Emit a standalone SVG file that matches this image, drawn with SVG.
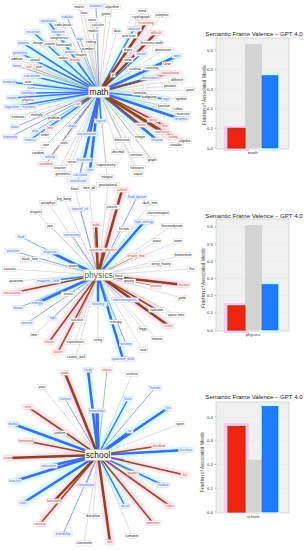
<svg xmlns="http://www.w3.org/2000/svg" width="308" height="550" viewBox="0 0 308 550">
<defs>
<style>
text{font-family:"Liberation Sans",Arial,sans-serif}
.n,.p,.r{font-size:3.4px;text-anchor:middle;dominant-baseline:central}
.n{fill:#222}.p{fill:#4d6ee8}.r{fill:#c4533a}
.bn,.bp,.br{stroke-width:.3}
.bn{fill:#fff;stroke:#c4c4c4}
.bp{fill:#f0f3ff;stroke:#c6cdf0}
.br{fill:#fff0f3;stroke:#f2c4cc}
path{fill:none}
.g{stroke:#aaa;stroke-width:.4}
.gn{stroke:#5aa05a;stroke-width:.6}
.b1{stroke:#5b7ef2;stroke-width:.7}
.b2{stroke:#4d70f0;stroke-width:1.5}
.b3{stroke:#4468ee;stroke-width:2.5}
.r1{stroke:#a8623c;stroke-width:.7}
.r2{stroke:#934c26;stroke-width:1.6}
.r3{stroke:#8c4420;stroke-width:2.5}
.mg{stroke:#a548e0;stroke-width:1.4}
.ctr{fill:#fff;stroke:#b8b8b8;stroke-width:.4}
.big{font-size:8.5px;text-anchor:middle;dominant-baseline:central;fill:#111}
.ct{font-size:6.1px;text-anchor:middle;fill:#222}
.tk{font-size:4.4px;text-anchor:end;fill:#333}
.yl{font-size:4.6px;text-anchor:middle;fill:#333}
.xl{font-size:4.4px;text-anchor:middle;fill:#333}
.pl{fill:#f0f0f0;stroke:#a8a8a8;stroke-width:.4}
.gl{stroke:#e4e4e4;stroke-width:.4}
.tks{stroke:#666;stroke-width:.4}
.hp{fill:#ffc8ee}
.hc{fill:#c8fff6}
.gy{fill:#d4d4d4}
.brd{fill:#ee2410;stroke:#a4401e;stroke-width:1.2}
.bbl{fill:#1f7cff;stroke:#1a62d8;stroke-width:.5}
</style>
<filter id="glow" x="-5%" y="-5%" width="110%" height="110%" color-interpolation-filters="sRGB">
<feMorphology operator="dilate" radius="1.5" in="SourceGraphic" result="d"/>
<feGaussianBlur in="d" stdDeviation="1.8" result="b"/>
<feColorMatrix in="b" type="matrix" values="0.8 0 -0.4 0 0.6  0 0 0.55 0 0.55  0 0 0.15 0 0.8  0 0 0 0.4 0" result="c"/>
<feMerge><feMergeNode in="c"/><feMergeNode in="SourceGraphic"/></feMerge>
</filter>
</defs>
<rect width="308" height="550" fill="#fff"/>

<!-- ================= MATH NETWORK ================= -->
<g id="math-network">
<g id="math-connectors">
<g id="math-thin">
<path class="g" d="M99 92L79 7"/><path class="g" d="M99 92L112 7"/><path class="g" d="M99 92L84 13"/><path class="g" d="M99 92L106 14"/><path class="g" d="M99 92L142 11"/><path class="g" d="M99 92L141 17"/><path class="g" d="M99 92L162 15"/><path class="g" d="M99 92L92 20"/><path class="g" d="M99 92L98 25"/><path class="g" d="M99 92L63 25"/><path class="g" d="M99 92L93 31"/><path class="g" d="M99 92L117 31"/><path class="g" d="M99 92L129 36"/><path class="g" d="M99 92L59 38"/><path class="g" d="M99 92L91 42"/><path class="g" d="M99 92L38 43"/><path class="g" d="M99 92L50 44"/><path class="g" d="M99 92L64 45"/><path class="g" d="M99 92L152 43"/><path class="g" d="M99 92L88 49"/><path class="g" d="M99 92L128 50"/><path class="g" d="M99 92L81 55"/><path class="g" d="M99 92L163 50"/><path class="g" d="M99 92L17 59"/><path class="g" d="M99 92L35 60"/><path class="g" d="M99 92L63 58"/><path class="g" d="M99 92L167 64"/><path class="g" d="M99 92L39 67"/><path class="g" d="M99 92L135 69"/><path class="g" d="M99 92L152 68"/><path class="g" d="M99 92L128 60"/><path class="g" d="M99 92L28 82"/><path class="g" d="M99 92L177 80"/><path class="g" d="M99 92L170 86"/><path class="g" d="M99 92L190 90"/><path class="g" d="M99 92L28 100"/><path class="g" d="M99 92L140 93"/><path class="g" d="M99 92L149 97"/><path class="g" d="M99 92L181 99"/><path class="g" d="M99 92L37 115"/><path class="g" d="M99 92L54 118"/><path class="g" d="M99 92L164 106"/><path class="g" d="M99 92L178 109"/><path class="g" d="M99 92L183 114"/><path class="g" d="M99 92L185 141"/><path class="g" d="M99 92L176 145"/><path class="g" d="M99 92L136 155"/><path class="g" d="M99 92L38 153"/><path class="gn" d="M99 92L152 160"/><path class="g" d="M99 92L137 168"/><path class="g" d="M99 92L60 168"/><path class="g" d="M99 92L72 162"/><path class="g" d="M99 92L63 174"/><path class="g" d="M99 92L106 165"/><path class="g" d="M99 92L107 177"/><path class="g" d="M99 92L113 75"/><path class="g" d="M99 92L138 174"/><path class="g" d="M99 92L118 152"/><path class="g" d="M99 92L140 137"/><path class="g" d="M99 92L122 140"/><path class="g" d="M99 92L46 145"/><path class="g" d="M99 92L64 143"/><path class="g" d="M99 92L45 135"/><path class="g" d="M99 92L18 117"/>
<path class="b1" d="M99 92L96 6"/><path class="b1" d="M99 92L67 17"/><path class="b1" d="M99 92L58 32"/><path class="b1" d="M99 92L80 39"/><path class="b1" d="M99 92L70 52"/><path class="b1" d="M99 92L17 66"/><path class="b1" d="M99 92L31 88"/><path class="b1" d="M99 92L29 107"/><path class="b1" d="M99 92L72 126"/><path class="b1" d="M99 92L15 127"/><path class="b1" d="M99 92L50 157"/><path class="b1" d="M99 92L80 175"/><path class="b1" d="M99 92L78 181"/><path class="b1" d="M99 92L35 131"/><path class="b1" d="M99 92L10 137"/>
<path class="r1" d="M99 92L75 60"/><path class="r1" d="M99 92L29 67"/><path class="r1" d="M99 92L153 120"/><path class="r1" d="M99 92L46 164"/><path class="r1" d="M99 92L50 128"/>
</g>
<g id="math-thick" filter="url(#glow)">
<path class="b2" d="M99 92L134 29"/><path class="b2" d="M99 92L141 54"/><path class="b2" d="M99 92L166 99"/><path class="b2" d="M99 92L101 121"/><path class="b2" d="M99 92L87 134"/><path class="b2" d="M99 92L28 93"/><path class="b2" d="M99 92L32 76"/><path class="b2" d="M99 92L48 21"/><path class="b2" d="M99 92L33 32"/><path class="b2" d="M99 92L23 43"/><path class="b2" d="M99 92L20 53"/><path class="b2" d="M99 92L9 82"/><path class="b2" d="M99 92L12 98"/><path class="b2" d="M99 92L12 107"/><path class="b2" d="M99 92L30 140"/>
<path class="b3" d="M99 92L177 56"/><path class="b3" d="M99 92L150 78"/><path class="b3" d="M99 92L181 119"/><path class="b3" d="M99 92L157 140"/><path class="b3" d="M99 92L84 160"/><path class="b3" d="M99 92L90 170"/>
<path class="r2" d="M99 92L170 73"/><path class="r2" d="M99 92L141 125"/><path class="r2" d="M99 92L165 126"/><path class="r2" d="M99 92L173 137"/><path class="r2" d="M99 92L78 104"/>
<path class="r3" d="M99 92L146 23"/><path class="r3" d="M99 92L156 33"/><path class="r3" d="M99 92L162 132"/>
</g>
</g>
<g id="math-nodes">
<g id="m-matrix"><rect class="bn" x="73.1" y="4.8" width="11.8" height="4.4"/><text class="n" x="79" y="7">matrix</text></g>
<g id="m-statistics"><rect class="bp" x="86.7" y="3.8" width="18.6" height="4.4"/><text class="p" x="96" y="6">statistics</text></g>
<g id="m-algorithm"><rect class="bn" x="103.6" y="4.8" width="16.9" height="4.4"/><text class="n" x="112" y="7">algorithm</text></g>
<g id="m-lines"><rect class="bn" x="78.9" y="10.8" width="10.1" height="4.4"/><text class="n" x="84" y="13">lines</text></g>
<g id="m-game"><rect class="bn" x="101.8" y="11.8" width="8.4" height="4.4"/><text class="n" x="106" y="14">game</text></g>
<g id="m-trend"><rect class="bn" x="136.9" y="8.8" width="10.1" height="4.4"/><text class="n" x="142" y="11">trend</text></g>
<g id="m-cryptograph"><rect class="bn" x="130.8" y="14.8" width="20.3" height="4.4"/><text class="n" x="141" y="17">cryptograph</text></g>
<g id="m-complex"><rect class="bn" x="155.2" y="12.8" width="13.5" height="4.4"/><text class="n" x="162" y="15">complex</text></g>
<g id="m-sudoku"><rect class="bp" x="61.1" y="14.8" width="11.8" height="4.4"/><text class="p" x="67" y="17">sudoku</text></g>
<g id="m-ratios"><rect class="bn" x="86.1" y="17.8" width="11.8" height="4.4"/><text class="n" x="92" y="20">ratios</text></g>
<g id="m-calculus"><rect class="bn" x="90.4" y="22.8" width="15.2" height="4.4"/><text class="n" x="98" y="25">calculus</text></g>
<g id="m-frustrating"><rect class="br" x="135.8" y="20.8" width="20.3" height="4.4"/><text class="r" x="146" y="23">frustrating</text></g>
<g id="m-code-break"><rect class="bn" x="53.7" y="22.8" width="18.6" height="4.4"/><text class="n" x="63" y="25">code-break</text></g>
<g id="m-equations"><rect class="bp" x="39.5" y="18.8" width="16.9" height="4.4"/><text class="p" x="48" y="21">equations</text></g>
<g id="m-abstract"><rect class="bp" x="126.4" y="26.8" width="15.2" height="4.4"/><text class="p" x="134" y="29">abstract</text></g>
<g id="m-maths"><rect class="bn" x="87.95" y="28.8" width="10.1" height="4.4"/><text class="n" x="93" y="31">maths</text></g>
<g id="m-difficult"><rect class="br" x="147.55" y="30.8" width="16.9" height="4.4"/><text class="r" x="156" y="33">difficult</text></g>
<g id="m-data"><rect class="bn" x="112.8" y="28.8" width="8.4" height="4.4"/><text class="n" x="117" y="31">data</text></g>
<g id="m-precision"><rect class="bn" x="120.55" y="33.8" width="16.9" height="4.4"/><text class="n" x="129" y="36">precision</text></g>
<g id="m-recursion"><rect class="bp" x="24.55" y="29.8" width="16.9" height="4.4"/><text class="p" x="33" y="32">recursion</text></g>
<g id="m-theorem"><rect class="bp" x="51.25" y="29.8" width="13.5" height="4.4"/><text class="p" x="58" y="32">theorem</text></g>
<g id="m-congruence"><rect class="bn" x="49.7" y="35.8" width="18.6" height="4.4"/><text class="n" x="59" y="38">congruence</text></g>
<g id="m-logic"><rect class="bp" x="74.95" y="36.8" width="10.1" height="4.4"/><text class="p" x="80" y="39">logic</text></g>
<g id="m-coding"><rect class="bn" x="85.1" y="39.8" width="11.8" height="4.4"/><text class="n" x="91" y="42">coding</text></g>
<g id="m-design"><rect class="bn" x="32.1" y="40.8" width="11.8" height="4.4"/><text class="n" x="38" y="43">design</text></g>
<g id="m-puzzle"><rect class="bn" x="44.1" y="41.8" width="11.8" height="4.4"/><text class="n" x="50" y="44">puzzle</text></g>
<g id="m-homework"><rect class="bn" x="56.4" y="42.8" width="15.2" height="4.4"/><text class="n" x="64" y="45">homework</text></g>
<g id="m-business-math"><rect class="bn" x="140.15" y="40.8" width="23.7" height="4.4"/><text class="n" x="152" y="43">business math</text></g>
<g id="m-graphs"><rect class="bp" x="17.1" y="40.8" width="11.8" height="4.4"/><text class="p" x="23" y="43">graphs</text></g>
<g id="m-number"><rect class="bn" x="82.1" y="46.8" width="11.8" height="4.4"/><text class="n" x="88" y="49">number</text></g>
<g id="m-digits"><rect class="bn" x="122.1" y="47.8" width="11.8" height="4.4"/><text class="n" x="128" y="50">digits</text></g>
<g id="m-pattern"><rect class="bp" x="63.25" y="49.8" width="13.5" height="4.4"/><text class="p" x="70" y="52">pattern</text></g>
<g id="m-shapes"><rect class="bn" x="75.1" y="52.8" width="11.8" height="4.4"/><text class="n" x="81" y="55">shapes</text></g>
<g id="m-fractal"><rect class="bp" x="134.25" y="51.8" width="13.5" height="4.4"/><text class="p" x="141" y="54">fractal</text></g>
<g id="m-abstraction"><rect class="bn" x="152.85" y="47.8" width="20.3" height="4.4"/><text class="n" x="163" y="50">abstraction</text></g>
<g id="m-topic"><rect class="bp" x="171.95" y="53.8" width="10.1" height="4.4"/><text class="p" x="177" y="56">topic</text></g>
<g id="m-geometry"><rect class="bp" x="12.4" y="50.8" width="15.2" height="4.4"/><text class="p" x="20" y="53">geometry</text></g>
<g id="m-addition"><rect class="bn" x="9.4" y="56.8" width="15.2" height="4.4"/><text class="n" x="17" y="59">addition</text></g>
<g id="m-spatial"><rect class="bn" x="28.25" y="57.8" width="13.5" height="4.4"/><text class="n" x="35" y="60">spatial</text></g>
<g id="m-radius"><rect class="bn" x="57.1" y="55.8" width="11.8" height="4.4"/><text class="n" x="63" y="58">radius</text></g>
<g id="m-boring"><rect class="br" x="69.1" y="57.8" width="11.8" height="4.4"/><text class="r" x="75" y="60">boring</text></g>
<g id="m-clear"><rect class="bn" x="161.95" y="61.8" width="10.1" height="4.4"/><text class="n" x="167" y="64">clear</text></g>
<g id="m-fuzzy"><rect class="bp" x="11.95" y="63.8" width="10.1" height="4.4"/><text class="p" x="17" y="66">fuzzy</text></g>
<g id="m-test"><rect class="br" x="24.8" y="64.8" width="8.4" height="4.4"/><text class="r" x="29" y="67">test</text></g>
<g id="m-plan"><rect class="bn" x="34.8" y="64.8" width="8.4" height="4.4"/><text class="n" x="39" y="67">plan</text></g>
<g id="m-cardinal"><rect class="bn" x="127.4" y="66.8" width="15.2" height="4.4"/><text class="n" x="135" y="69">cardinal</text></g>
<g id="m-counting"><rect class="bn" x="144.4" y="65.8" width="15.2" height="4.4"/><text class="n" x="152" y="68">counting</text></g>
<g id="m-solve"><rect class="bn" x="122.95" y="57.8" width="10.1" height="4.4"/><text class="n" x="128" y="60">solve</text></g>
<g id="m-consultation"><rect class="br" x="159" y="70.8" width="22" height="4.4"/><text class="r" x="170" y="73">consultation</text></g>
<g id="m-dimensions"><rect class="bp" x="140.7" y="75.8" width="18.6" height="4.4"/><text class="p" x="150" y="78">dimensions</text></g>
<g id="m-calculation"><rect class="bp" x="21.85" y="73.8" width="20.3" height="4.4"/><text class="p" x="32" y="76">calculation</text></g>
<g id="m-numeral"><rect class="bp" x="2.25" y="79.8" width="13.5" height="4.4"/><text class="p" x="9" y="82">numeral</text></g>
<g id="m-ratio"><rect class="bn" x="22.95" y="79.8" width="10.1" height="4.4"/><text class="n" x="28" y="82">ratio</text></g>
<g id="m-different"><rect class="bn" x="168.55" y="77.8" width="16.9" height="4.4"/><text class="n" x="177" y="80">different</text></g>
<g id="m-position"><rect class="bn" x="162.4" y="83.8" width="15.2" height="4.4"/><text class="n" x="170" y="86">position</text></g>
<g id="m-sum"><rect class="bp" x="27.65" y="85.8" width="6.7" height="4.4"/><text class="p" x="31" y="88">sum</text></g>
<g id="m-proof"><rect class="bn" x="184.95" y="87.8" width="10.1" height="4.4"/><text class="n" x="190" y="90">proof</text></g>
<g id="m-topology"><rect class="bp" x="20.4" y="90.8" width="15.2" height="4.4"/><text class="p" x="28" y="93">topology</text></g>
<g id="m-simple"><rect class="bp" x="6.1" y="95.8" width="11.8" height="4.4"/><text class="p" x="12" y="98">simple</text></g>
<g id="m-physics"><rect class="bn" x="21.25" y="97.8" width="13.5" height="4.4"/><text class="n" x="28" y="100">physics</text></g>
<g id="m-formulas"><rect class="bn" x="132.4" y="90.8" width="15.2" height="4.4"/><text class="n" x="140" y="93">formulas</text></g>
<g id="m-budgeting"><rect class="bn" x="140.55" y="94.8" width="16.9" height="4.4"/><text class="n" x="149" y="97">budgeting</text></g>
<g id="m-fractions"><rect class="bp" x="20.55" y="104.8" width="16.9" height="4.4"/><text class="p" x="29" y="107">fractions</text></g>
<g id="m-logarithm"><rect class="bp" x="3.55" y="104.8" width="16.9" height="4.4"/><text class="p" x="12" y="107">logarithm</text></g>
<g id="m-sign"><rect class="bp" x="161.8" y="96.8" width="8.4" height="4.4"/><text class="p" x="166" y="99">sign</text></g>
<g id="m-symbol"><rect class="bn" x="175.1" y="96.8" width="11.8" height="4.4"/><text class="n" x="181" y="99">symbol</text></g>
<g id="m-multiply"><rect class="bn" x="29.4" y="112.8" width="15.2" height="4.4"/><text class="n" x="37" y="115">multiply</text></g>
<g id="m-problem"><rect class="bn" x="47.25" y="115.8" width="13.5" height="4.4"/><text class="n" x="54" y="118">problem</text></g>
<g id="m-function"><rect class="bn" x="156.4" y="103.8" width="15.2" height="4.4"/><text class="n" x="164" y="106">function</text></g>
<g id="m-cubes"><rect class="bn" x="172.95" y="106.8" width="10.1" height="4.4"/><text class="n" x="178" y="109">cubes</text></g>
<g id="m-matrices"><rect class="bn" x="175.4" y="111.8" width="15.2" height="4.4"/><text class="n" x="183" y="114">matrices</text></g>
<g id="m-analysis"><rect class="bp" x="173.4" y="116.8" width="15.2" height="4.4"/><text class="p" x="181" y="119">analysis</text></g>
<g id="m-stress"><rect class="br" x="135.1" y="122.8" width="11.8" height="4.4"/><text class="r" x="141" y="125">stress</text></g>
<g id="m-tricky"><rect class="br" x="147.1" y="117.8" width="11.8" height="4.4"/><text class="r" x="153" y="120">tricky</text></g>
<g id="m-fear"><rect class="br" x="160.8" y="123.8" width="8.4" height="4.4"/><text class="r" x="165" y="126">fear</text></g>
<g id="m-confusing"><rect class="br" x="153.55" y="129.8" width="16.9" height="4.4"/><text class="r" x="162" y="132">confusing</text></g>
<g id="m-failing"><rect class="br" x="166.25" y="134.8" width="13.5" height="4.4"/><text class="r" x="173" y="137">failing</text></g>
<g id="m-angle"><rect class="bp" x="66.95" y="123.8" width="10.1" height="4.4"/><text class="p" x="72" y="126">angle</text></g>
<g id="m-logical"><rect class="bp" x="94.25" y="118.8" width="13.5" height="4.4"/><text class="p" x="101" y="121">logical</text></g>
<g id="m-brain"><rect class="bp" x="9.95" y="124.8" width="10.1" height="4.4"/><text class="p" x="15" y="127">brain</text></g>
<g id="m-algebra"><rect class="bn" x="178.25" y="138.8" width="13.5" height="4.4"/><text class="n" x="185" y="141">algebra</text></g>
<g id="m-shapes2"><rect class="bp" x="151.1" y="137.8" width="11.8" height="4.4"/><text class="p" x="157" y="140">shapes</text></g>
<g id="m-variable"><rect class="bn" x="168.4" y="142.8" width="15.2" height="4.4"/><text class="n" x="176" y="145">variable</text></g>
<g id="m-finance"><rect class="bp" x="23.25" y="137.8" width="13.5" height="4.4"/><text class="p" x="30" y="140">finance</text></g>
<g id="m-exponentials"><rect class="bp" x="76" y="131.8" width="22" height="4.4"/><text class="p" x="87" y="134">exponentials</text></g>
<g id="m-constant"><rect class="bn" x="128.4" y="152.8" width="15.2" height="4.4"/><text class="n" x="136" y="155">constant</text></g>
<g id="m-random"><rect class="bn" x="32.1" y="150.8" width="11.8" height="4.4"/><text class="n" x="38" y="153">random</text></g>
<g id="m-graph"><rect class="bn" x="146.95" y="157.8" width="10.1" height="4.4"/><text class="n" x="152" y="160">graph</text></g>
<g id="m-functions"><rect class="bn" x="128.55" y="165.8" width="16.9" height="4.4"/><text class="n" x="137" y="168">functions</text></g>
<g id="m-infinity"><rect class="bp" x="42.4" y="154.8" width="15.2" height="4.4"/><text class="p" x="50" y="157">infinity</text></g>
<g id="m-variables"><rect class="br" x="37.55" y="161.8" width="16.9" height="4.4"/><text class="r" x="46" y="164">variables</text></g>
<g id="m-teacher"><rect class="bn" x="53.25" y="165.8" width="13.5" height="4.4"/><text class="n" x="60" y="168">teacher</text></g>
<g id="m-vector"><rect class="bn" x="66.1" y="159.8" width="11.8" height="4.4"/><text class="n" x="72" y="162">vector</text></g>
<g id="m-theorems"><rect class="bp" x="76.4" y="157.8" width="15.2" height="4.4"/><text class="p" x="84" y="160">theorems</text></g>
<g id="m-geometric"><rect class="bn" x="54.55" y="171.8" width="16.9" height="4.4"/><text class="n" x="63" y="174">geometric</text></g>
<g id="m-calculator"><rect class="bp" x="70.7" y="172.8" width="18.6" height="4.4"/><text class="p" x="80" y="175">calculator</text></g>
<g id="m-ruler"><rect class="bp" x="84.95" y="167.8" width="10.1" height="4.4"/><text class="p" x="90" y="170">ruler</text></g>
<g id="m-trigonometry"><rect class="bn" x="95" y="162.8" width="22" height="4.4"/><text class="n" x="106" y="165">trigonometry</text></g>
<g id="m-integral"><rect class="bn" x="99.4" y="174.8" width="15.2" height="4.4"/><text class="n" x="107" y="177">integral</text></g>
<g id="m-statistician"><rect class="bp" x="67" y="178.8" width="22" height="4.4"/><text class="p" x="78" y="181">statistician</text></g>
<g id="m-pi"><rect class="bn" x="110.5" y="72.8" width="5" height="4.4"/><text class="n" x="113" y="75">pi</text></g>
<g id="m-fun"><rect class="br" x="74.65" y="101.8" width="6.7" height="4.4"/><text class="r" x="78" y="104">fun</text></g>
<g id="m-equal"><rect class="bn" x="132.95" y="171.8" width="10.1" height="4.4"/><text class="n" x="138" y="174">equal</text></g>
<g id="m-decimal"><rect class="bn" x="111.25" y="149.8" width="13.5" height="4.4"/><text class="n" x="118" y="152">decimal</text></g>
<g id="m-integer"><rect class="bn" x="133.25" y="134.8" width="13.5" height="4.4"/><text class="n" x="140" y="137">integer</text></g>
<g id="m-dimension"><rect class="bn" x="113.55" y="137.8" width="16.9" height="4.4"/><text class="n" x="122" y="140">dimension</text></g>
<g id="m-sine"><rect class="bn" x="41.8" y="142.8" width="8.4" height="4.4"/><text class="n" x="46" y="145">sine</text></g>
<g id="m-stats"><rect class="bn" x="58.95" y="140.8" width="10.1" height="4.4"/><text class="n" x="64" y="143">stats</text></g>
<g id="m-order"><rect class="bn" x="39.95" y="132.8" width="10.1" height="4.4"/><text class="n" x="45" y="135">order</text></g>
<g id="m-limit"><rect class="br" x="44.95" y="125.8" width="10.1" height="4.4"/><text class="r" x="50" y="128">limit</text></g>
<g id="m-axis"><rect class="bp" x="30.8" y="128.8" width="8.4" height="4.4"/><text class="p" x="35" y="131">axis</text></g>
<g id="m-estimate"><rect class="bn" x="10.4" y="114.8" width="15.2" height="4.4"/><text class="n" x="18" y="117">estimate</text></g>
<g id="m-exponent"><rect class="bp" x="2.4" y="134.8" width="15.2" height="4.4"/><text class="p" x="10" y="137">exponent</text></g>
</g>
<g id="m-center"><rect class="ctr" x="88.5" y="86.5" width="21" height="11"/><text class="big" x="99" y="92">math</text></g>
</g>

<!-- ================= PHYSICS NETWORK ================= -->
<g id="physics-network">
<g id="physics-connectors">
<g id="physics-thin">
<path class="g" d="M98 275L75 189"/><path class="g" d="M98 275L89 188"/><path class="g" d="M98 275L108 185"/><path class="g" d="M98 275L64 199"/><path class="g" d="M98 275L48 203"/><path class="g" d="M98 275L150 203"/><path class="g" d="M98 275L158 213"/><path class="g" d="M98 275L36 212"/><path class="g" d="M98 275L112 207"/><path class="g" d="M98 275L124 229"/><path class="g" d="M98 275L172 226"/><path class="g" d="M98 275L50 226"/><path class="g" d="M98 275L157 241"/><path class="g" d="M98 275L178 241"/><path class="g" d="M98 275L183 255"/><path class="g" d="M98 275L161 264"/><path class="g" d="M98 275L30 259"/><path class="g" d="M98 275L73 266"/><path class="g" d="M98 275L192 269"/><path class="g" d="M98 275L119 276"/><path class="g" d="M98 275L129 281"/><path class="g" d="M98 275L10 269"/><path class="g" d="M98 275L16 281"/><path class="g" d="M98 275L68 294"/><path class="g" d="M98 275L182 298"/><path class="g" d="M98 275L176 315"/><path class="g" d="M98 275L116 322"/><path class="g" d="M98 275L143 329"/><path class="g" d="M98 275L34 335"/><path class="g" d="M98 275L75 342"/><path class="g" d="M98 275L98 340"/><path class="g" d="M98 275L157 339"/><path class="g" d="M98 275L76 357"/><path class="g" d="M98 275L143 350"/>
<path class="gn" d="M98 275L94 232"/>
<path class="b1" d="M98 275L137 197"/><path class="b1" d="M98 275L80 209"/><path class="b1" d="M98 275L21 237"/><path class="b1" d="M98 275L72 235"/><path class="b1" d="M98 275L13 251"/><path class="b1" d="M98 275L125 300"/><path class="b1" d="M98 275L18 308"/><path class="b1" d="M98 275L53 318"/><path class="b1" d="M98 275L27 323"/><path class="b1" d="M98 275L126 344"/>
<path class="r1" d="M98 275L136 256"/><path class="r1" d="M98 275L156 286"/><path class="r1" d="M98 275L77 320"/>
</g>
<g id="physics-thick" filter="url(#glow)">
<path class="b2" d="M98 275L48 281"/>
<path class="b3" d="M98 275L144 222"/><path class="b3" d="M98 275L50 252"/><path class="b3" d="M98 275L37 303"/><path class="b3" d="M98 275L98 304"/><path class="b3" d="M98 275L123 359"/>
<path class="r2" d="M98 275L103 250"/><path class="r2" d="M98 275L12 293"/><path class="r2" d="M98 275L49 342"/><path class="r2" d="M98 275L157 310"/><path class="r2" d="M98 275L58 352"/>
<path class="r3" d="M98 275L122 190"/><path class="r3" d="M98 275L96 225"/><path class="r3" d="M98 275L184 285"/><path class="r3" d="M98 275L169 326"/>
</g>
</g>
<g id="physics-nodes">
<g id="p-black"><rect class="bn" x="69.95" y="186.8" width="10.1" height="4.4"/><text class="n" x="75" y="189">black</text></g>
<g id="p-time_dil"><rect class="bn" x="81.4" y="185.8" width="15.2" height="4.4"/><text class="n" x="89" y="188">time_dil</text></g>
<g id="p-gravitational"><rect class="bn" x="96.15" y="182.8" width="23.7" height="4.4"/><text class="n" x="108" y="185">gravitational</text></g>
<g id="p-critical"><rect class="br" x="114.4" y="187.8" width="15.2" height="4.4"/><text class="r" x="122" y="190">critical</text></g>
<g id="p-big_bang"><rect class="bn" x="56.4" y="196.8" width="15.2" height="4.4"/><text class="n" x="64" y="199">big_bang</text></g>
<g id="p-astrophys"><rect class="bn" x="39.55" y="200.8" width="16.9" height="4.4"/><text class="n" x="48" y="203">astrophys</text></g>
<g id="p-fluid_dynam"><rect class="bp" x="126.85" y="194.8" width="20.3" height="4.4"/><text class="p" x="137" y="197">fluid_dynam</text></g>
<g id="p-dark_mat"><rect class="bn" x="142.4" y="200.8" width="15.2" height="4.4"/><text class="n" x="150" y="203">dark_mat</text></g>
<g id="p-electromagnet"><rect class="bn" x="146.15" y="210.8" width="23.7" height="4.4"/><text class="n" x="158" y="213">electromagnet</text></g>
<g id="p-magnet"><rect class="bn" x="30.1" y="209.8" width="11.8" height="4.4"/><text class="n" x="36" y="212">magnet</text></g>
<g id="p-particle"><rect class="bn" x="104.4" y="204.8" width="15.2" height="4.4"/><text class="n" x="112" y="207">particle</text></g>
<g id="p-special_rel"><rect class="bp" x="69.85" y="206.8" width="20.3" height="4.4"/><text class="p" x="80" y="209">special_rel</text></g>
<g id="p-solid"><rect class="br" x="90.95" y="222.8" width="10.1" height="4.4"/><text class="r" x="96" y="225">solid</text></g>
<g id="p-friction"><rect class="bn" x="116.4" y="226.8" width="15.2" height="4.4"/><text class="n" x="124" y="229">friction</text></g>
<g id="p-high_energy"><rect class="bp" x="133.85" y="219.8" width="20.3" height="4.4"/><text class="p" x="144" y="222">high_energy</text></g>
<g id="p-thermodynam"><rect class="bn" x="161.85" y="223.8" width="20.3" height="4.4"/><text class="n" x="172" y="226">thermodynam</text></g>
<g id="p-pair"><rect class="bn" x="45.8" y="223.8" width="8.4" height="4.4"/><text class="n" x="50" y="226">pair</text></g>
<g id="p-wave"><rect class="bn" x="152.8" y="238.8" width="8.4" height="4.4"/><text class="n" x="157" y="241">wave</text></g>
<g id="p-atom"><rect class="bn" x="173.8" y="238.8" width="8.4" height="4.4"/><text class="n" x="178" y="241">atom</text></g>
<g id="p-fluid"><rect class="bp" x="15.95" y="234.8" width="10.1" height="4.4"/><text class="p" x="21" y="237">fluid</text></g>
<g id="p-astronomy"><rect class="bp" x="63.55" y="232.8" width="16.9" height="4.4"/><text class="p" x="72" y="235">astronomy</text></g>
<g id="p-quantum_physics"><rect class="br" x="89.45" y="247.8" width="27.1" height="4.4"/><text class="r" x="103" y="250">quantum_physics</text></g>
<g id="p-theory_test"><rect class="br" x="125.85" y="253.8" width="20.3" height="4.4"/><text class="r" x="136" y="256">theory_test</text></g>
<g id="p-momentum"><rect class="bn" x="175.4" y="252.8" width="15.2" height="4.4"/><text class="n" x="183" y="255">momentum</text></g>
<g id="p-string_theory"><rect class="bn" x="149.15" y="261.8" width="23.7" height="4.4"/><text class="n" x="161" y="264">string_theory</text></g>
<g id="p-particles"><rect class="bp" x="4.55" y="248.8" width="16.9" height="4.4"/><text class="p" x="13" y="251">particles</text></g>
<g id="p-physicist"><rect class="bp" x="41.55" y="249.8" width="16.9" height="4.4"/><text class="p" x="50" y="252">physicist</text></g>
<g id="p-black_hole"><rect class="bn" x="20.7" y="256.8" width="18.6" height="4.4"/><text class="n" x="30" y="259">black_hole</text></g>
<g id="p-speed"><rect class="bn" x="67.95" y="263.8" width="10.1" height="4.4"/><text class="n" x="73" y="266">speed</text></g>
<g id="p-flux"><rect class="bn" x="187.8" y="266.8" width="8.4" height="4.4"/><text class="n" x="192" y="269">flux</text></g>
<g id="p-force"><rect class="bn" x="113.95" y="273.8" width="10.1" height="4.4"/><text class="n" x="119" y="276">force</text></g>
<g id="p-gravity"><rect class="bn" x="122.25" y="278.8" width="13.5" height="4.4"/><text class="n" x="129" y="281">gravity</text></g>
<g id="p-plasma"><rect class="br" x="150.1" y="283.8" width="11.8" height="4.4"/><text class="r" x="156" y="286">plasma</text></g>
<g id="p-nuclear"><rect class="br" x="177.25" y="282.8" width="13.5" height="4.4"/><text class="r" x="184" y="285">nuclear</text></g>
<g id="p-acoustic"><rect class="bn" x="2.4" y="266.8" width="15.2" height="4.4"/><text class="n" x="10" y="269">acoustic</text></g>
<g id="p-quantum"><rect class="bn" x="9.25" y="278.8" width="13.5" height="4.4"/><text class="n" x="16" y="281">quantum</text></g>
<g id="p-magnetic_field"><rect class="bp" x="35.3" y="278.8" width="25.4" height="4.4"/><text class="p" x="48" y="281">magnetic_field</text></g>
<g id="p-inertia"><rect class="bn" x="61.25" y="291.8" width="13.5" height="4.4"/><text class="n" x="68" y="294">inertia</text></g>
<g id="p-electromagnetic"><rect class="bp" x="111.45" y="297.8" width="27.1" height="4.4"/><text class="p" x="125" y="300">electromagnetic</text></g>
<g id="p-yield"><rect class="bn" x="176.95" y="295.8" width="10.1" height="4.4"/><text class="n" x="182" y="298">yield</text></g>
<g id="p-uncertainty"><rect class="br" x="1.85" y="290.8" width="20.3" height="4.4"/><text class="r" x="12" y="293">uncertainty</text></g>
<g id="p-energy"><rect class="bp" x="31.1" y="300.8" width="11.8" height="4.4"/><text class="p" x="37" y="303">energy</text></g>
<g id="p-relativity"><rect class="bp" x="88.7" y="301.8" width="18.6" height="4.4"/><text class="p" x="98" y="304">relativity</text></g>
<g id="p-radiation"><rect class="bn" x="148.55" y="307.8" width="16.9" height="4.4"/><text class="n" x="157" y="310">radiation</text></g>
<g id="p-space-time"><rect class="bn" x="166.7" y="312.8" width="18.6" height="4.4"/><text class="n" x="176" y="315">space-time</text></g>
<g id="p-boson"><rect class="bp" x="12.95" y="305.8" width="10.1" height="4.4"/><text class="p" x="18" y="308">boson</text></g>
<g id="p-light"><rect class="bp" x="47.95" y="315.8" width="10.1" height="4.4"/><text class="p" x="53" y="318">light</text></g>
<g id="p-tension"><rect class="bp" x="20.25" y="320.8" width="13.5" height="4.4"/><text class="p" x="27" y="323">tension</text></g>
<g id="p-calculus"><rect class="bn" x="69.4" y="317.8" width="15.2" height="4.4"/><text class="n" x="77" y="320">calculus</text></g>
<g id="p-entropy"><rect class="bn" x="109.25" y="319.8" width="13.5" height="4.4"/><text class="n" x="116" y="322">entropy</text></g>
<g id="p-higgs"><rect class="bn" x="137.95" y="326.8" width="10.1" height="4.4"/><text class="n" x="143" y="329">higgs</text></g>
<g id="p-crisis"><rect class="br" x="163.1" y="323.8" width="11.8" height="4.4"/><text class="r" x="169" y="326">crisis</text></g>
<g id="p-time"><rect class="bn" x="29.8" y="332.8" width="8.4" height="4.4"/><text class="n" x="34" y="335">time</text></g>
<g id="p-chaos"><rect class="br" x="43.95" y="339.8" width="10.1" height="4.4"/><text class="r" x="49" y="342">chaos</text></g>
<g id="p-experiment"><rect class="bn" x="65.7" y="339.8" width="18.6" height="4.4"/><text class="n" x="75" y="342">experiment</text></g>
<g id="p-string"><rect class="bn" x="92.1" y="337.8" width="11.8" height="4.4"/><text class="n" x="98" y="340">string</text></g>
<g id="p-motion"><rect class="bn" x="151.1" y="336.8" width="11.8" height="4.4"/><text class="n" x="157" y="339">motion</text></g>
<g id="p-neutron"><rect class="bp" x="119.25" y="341.8" width="13.5" height="4.4"/><text class="p" x="126" y="344">neutron</text></g>
<g id="p-failure"><rect class="br" x="51.25" y="349.8" width="13.5" height="4.4"/><text class="r" x="58" y="352">failure</text></g>
<g id="p-cosmic_wall"><rect class="bn" x="65.85" y="354.8" width="20.3" height="4.4"/><text class="n" x="76" y="357">cosmic_wall</text></g>
<g id="p-void"><rect class="bn" x="138.8" y="347.8" width="8.4" height="4.4"/><text class="n" x="143" y="350">void</text></g>
<g id="p-quantum_field"><rect class="bp" x="111.15" y="356.8" width="23.7" height="4.4"/><text class="p" x="123" y="359">quantum_field</text></g>
</g>
<g id="p-center"><rect class="ctr" x="83.5" y="269.5" width="30" height="11"/><text class="big" x="98.5" y="275"><tspan fill="#2a7d34">ph</tspan><tspan fill="#8b2fa8">y</tspan><tspan fill="#2a7d34">s</tspan><tspan fill="#8b2fa8">i</tspan><tspan fill="#2a7d34">cs</tspan></text></g>
</g>

<!-- ================= SCHOOL NETWORK ================= -->
<g id="school-network">
<g id="school-connectors">
<g id="school-thin">
<path class="g" d="M98 455L132 374"/><path class="g" d="M98 455L42 387"/><path class="g" d="M98 455L60 433"/><path class="g" d="M98 455L180 424"/><path class="g" d="M98 455L93 516"/><path class="g" d="M98 455L132 536"/><path class="g" d="M98 455L84 543"/>
<path class="gn" d="M98 455L107 370"/>
<path class="b1" d="M98 455L155 388"/><path class="b1" d="M98 455L65 399"/><path class="b1" d="M98 455L86 485"/><path class="b1" d="M98 455L63 534"/>
<path class="r1" d="M98 455L133 473"/>
</g>
<g id="school-thick" filter="url(#glow)">
<path class="b2" d="M98 455L128 399"/><path class="b2" d="M98 455L163 485"/><path class="b2" d="M98 455L125 506"/>
<path class="b3" d="M98 455L88 370"/><path class="b3" d="M98 455L97 411" style="stroke-width:3.4"/><path class="b3" d="M98 455L168 408"/><path class="b3" d="M98 455L13 424"/><path class="b3" d="M98 455L130 431"/><path class="b3" d="M98 455L186 450"/><path class="b3" d="M98 455L49 466"/><path class="b3" d="M98 455L15 481"/><path class="b3" d="M98 455L23 503"/>
<path class="r2" d="M98 455L28 407"/><path class="r2" d="M98 455L26 441"/><path class="r2" d="M98 455L159 446"/><path class="r2" d="M98 455L185 475"/><path class="r2" d="M98 455L170 506"/><path class="r2" d="M98 455L40 524"/><path class="r2" d="M98 455L153 523"/>
<path class="r3" d="M98 455L65 373"/><path class="r3" d="M98 455L8 458"/><path class="r3" d="M98 455L54 501"/><path class="r3" d="M98 455L110 542"/>
<path class="mg" d="M98 455L118 470"/><path class="mg" d="M98 455L124 460"/>
</g>
</g>
<g id="school-nodes">
<g id="s-pride"><rect class="br" x="59.95" y="370.8" width="10.1" height="4.4"/><text class="r" x="65" y="373">pride</text></g>
<g id="s-study"><rect class="bp" x="82.95" y="367.8" width="10.1" height="4.4"/><text class="p" x="88" y="370">study</text></g>
<g id="s-stress"><rect class="br" x="101.1" y="367.8" width="11.8" height="4.4"/><text class="r" x="107" y="370">stress</text></g>
<g id="s-science"><rect class="bn" x="125.25" y="371.8" width="13.5" height="4.4"/><text class="n" x="132" y="374">science</text></g>
<g id="s-past"><rect class="bn" x="37.8" y="384.8" width="8.4" height="4.4"/><text class="n" x="42" y="387">past</text></g>
<g id="s-friends"><rect class="bp" x="148.25" y="385.8" width="13.5" height="4.4"/><text class="p" x="155" y="388">friends</text></g>
<g id="s-classes"><rect class="bp" x="58.25" y="396.8" width="13.5" height="4.4"/><text class="p" x="65" y="399">classes</text></g>
<g id="s-learn"><rect class="bp" x="122.95" y="396.8" width="10.1" height="4.4"/><text class="p" x="128" y="399">learn</text></g>
<g id="s-knowledge"><rect class="bp" x="88.55" y="408.8" width="16.9" height="4.4"/><text class="p" x="97" y="411">knowledge</text></g>
<g id="s-strict"><rect class="br" x="22.1" y="404.8" width="11.8" height="4.4"/><text class="r" x="28" y="407">strict</text></g>
<g id="s-fun"><rect class="bp" x="164.65" y="405.8" width="6.7" height="4.4"/><text class="p" x="168" y="408">fun</text></g>
<g id="s-books"><rect class="bp" x="7.95" y="421.8" width="10.1" height="4.4"/><text class="p" x="13" y="424">books</text></g>
<g id="s-uniform"><rect class="bn" x="53.25" y="430.8" width="13.5" height="4.4"/><text class="n" x="60" y="433">uniform</text></g>
<g id="s-art"><rect class="bp" x="126.65" y="428.8" width="6.7" height="4.4"/><text class="p" x="130" y="431">art</text></g>
<g id="s-sport"><rect class="bn" x="174.95" y="421.8" width="10.1" height="4.4"/><text class="n" x="180" y="424">sport</text></g>
<g id="s-homework"><rect class="br" x="18.4" y="438.8" width="15.2" height="4.4"/><text class="r" x="26" y="441">homework</text></g>
<g id="s-deadline"><rect class="br" x="151.4" y="443.8" width="15.2" height="4.4"/><text class="r" x="159" y="446">deadline</text></g>
<g id="s-exam"><rect class="br" x="3.8" y="455.8" width="8.4" height="4.4"/><text class="r" x="8" y="458">exam</text></g>
<g id="s-teachers"><rect class="bp" x="178.4" y="447.8" width="15.2" height="4.4"/><text class="p" x="186" y="450">teachers</text></g>
<g id="s-education"><rect class="bp" x="40.55" y="463.8" width="16.9" height="4.4"/><text class="p" x="49" y="466">education</text></g>
<g id="s-fail"><rect class="br" x="180.8" y="472.8" width="8.4" height="4.4"/><text class="r" x="185" y="475">fail</text></g>
<g id="s-grades"><rect class="br" x="127.1" y="470.8" width="11.8" height="4.4"/><text class="r" x="133" y="473">grades</text></g>
<g id="s-student"><rect class="bp" x="156.25" y="482.8" width="13.5" height="4.4"/><text class="p" x="163" y="485">student</text></g>
<g id="s-teacher"><rect class="bp" x="8.25" y="478.8" width="13.5" height="4.4"/><text class="p" x="15" y="481">teacher</text></g>
<g id="s-classmates"><rect class="bp" x="76.7" y="482.8" width="18.6" height="4.4"/><text class="p" x="86" y="485">classmates</text></g>
<g id="s-boredom"><rect class="br" x="47.25" y="498.8" width="13.5" height="4.4"/><text class="r" x="54" y="501">boredom</text></g>
<g id="s-rules"><rect class="br" x="164.95" y="503.8" width="10.1" height="4.4"/><text class="r" x="170" y="506">rules</text></g>
<g id="s-tutor"><rect class="bp" x="17.95" y="500.8" width="10.1" height="4.4"/><text class="p" x="23" y="503">tutor</text></g>
<g id="s-social"><rect class="bp" x="119.1" y="503.8" width="11.8" height="4.4"/><text class="p" x="125" y="506">social</text></g>
<g id="s-anxiety"><rect class="br" x="33.25" y="521.8" width="13.5" height="4.4"/><text class="r" x="40" y="524">anxiety</text></g>
<g id="s-pressure"><rect class="br" x="145.4" y="520.8" width="15.2" height="4.4"/><text class="r" x="153" y="523">pressure</text></g>
<g id="s-discipline"><rect class="bn" x="83.7" y="513.8" width="18.6" height="4.4"/><text class="n" x="93" y="516">discipline</text></g>
<g id="s-friendship"><rect class="bp" x="53.7" y="531.8" width="18.6" height="4.4"/><text class="p" x="63" y="534">friendship</text></g>
<g id="s-compete"><rect class="bn" x="125.25" y="533.8" width="13.5" height="4.4"/><text class="n" x="132" y="536">compete</text></g>
<g id="s-classroom"><rect class="bn" x="75.55" y="540.8" width="16.9" height="4.4"/><text class="n" x="84" y="543">classroom</text></g>
<g id="s-test"><rect class="br" x="105.8" y="539.8" width="8.4" height="4.4"/><text class="r" x="110" y="542">test</text></g>
</g>
<g id="s-center"><rect class="ctr" x="85" y="449.5" width="26" height="11"/><text class="big" x="98" y="455">school</text></g>
</g>

<!-- ================= BAR CHARTS ================= -->
<g id="chart-math">
<text class="ct" x="254" y="36">Semantic Frame Valence – GPT 4.0</text>
<rect class="pl" x="216" y="38" width="73" height="111"/>
<path class="gl" d="M216 128.4H289M216 108.8H289M216 89.2H289M216 69.6H289M216 50H289"/>
<rect class="hp" x="224" y="126" width="25" height="25"/>
<rect class="hc" x="260" y="72" width="20" height="79"/>
<rect class="gy" x="245" y="44.1" width="17" height="103.9"/>
<rect class="brd" x="228" y="128.4" width="17" height="19.6"/>
<rect class="bbl" x="262" y="75.5" width="16" height="72.5"/>
<path class="tks" d="M214.5 148H216M214.5 128.4H216M214.5 108.8H216M214.5 89.2H216M214.5 69.6H216M214.5 50H216"/>
<text class="tk" x="213" y="149.5">0.0</text><text class="tk" x="213" y="129.9">0.1</text><text class="tk" x="213" y="110.3">0.2</text><text class="tk" x="213" y="90.7">0.3</text><text class="tk" x="213" y="71.1">0.4</text><text class="tk" x="213" y="51.5">0.5</text>
<text class="yl" transform="translate(206 95) rotate(-90)">Fraction of Associated Words</text>
<text class="xl" x="253" y="153.5">math</text>
</g>

<g id="chart-physics">
<text class="ct" x="254" y="217.5">Semantic Frame Valence – GPT 4.0</text>
<rect class="pl" x="216" y="219" width="73" height="112"/>
<path class="gl" d="M216 312.8H289M216 295.6H289M216 278.4H289M216 261.2H289M216 244H289M216 226.8H289"/>
<rect class="hp" x="224" y="303" width="25" height="30"/>
<rect class="hc" x="260" y="281" width="20" height="52"/>
<rect class="gy" x="245" y="225.1" width="17" height="104.9"/>
<rect class="brd" x="228" y="305.9" width="17" height="24.1"/>
<rect class="bbl" x="262" y="284.4" width="16" height="45.6"/>
<path class="tks" d="M214.5 330H216M214.5 312.8H216M214.5 295.6H216M214.5 278.4H216M214.5 261.2H216M214.5 244H216M214.5 226.8H216"/>
<text class="tk" x="213" y="331.5">0.0</text><text class="tk" x="213" y="314.3">0.1</text><text class="tk" x="213" y="297.1">0.2</text><text class="tk" x="213" y="279.9">0.3</text><text class="tk" x="213" y="262.7">0.4</text><text class="tk" x="213" y="245.5">0.5</text><text class="tk" x="213" y="228.3">0.6</text>
<text class="yl" transform="translate(205 278) rotate(-90)">Fraction of Associated Words</text>
<text class="xl" x="253" y="336">physics</text>
</g>

<g id="chart-school">
<text class="ct" x="254" y="398.7">Semantic Frame Valence – GPT 4.0</text>
<rect class="pl" x="216" y="402" width="73" height="111"/>
<path class="gl" d="M216 488.25H289M216 464.5H289M216 440.75H289M216 417H289"/>
<rect class="hp" x="224" y="423" width="25" height="90"/>
<rect class="hc" x="260" y="404" width="20" height="109"/>
<rect class="gy" x="245" y="459.75" width="17" height="52.25"/>
<rect class="brd" x="228" y="426.5" width="17" height="85.5"/>
<rect class="bbl" x="262" y="406.3" width="16" height="105.7"/>
<path class="tks" d="M214.5 512H216M214.5 488.25H216M214.5 464.5H216M214.5 440.75H216M214.5 417H216"/>
<text class="tk" x="213" y="513.5">0.0</text><text class="tk" x="213" y="489.75">0.1</text><text class="tk" x="213" y="466">0.2</text><text class="tk" x="213" y="442.25">0.3</text><text class="tk" x="213" y="418.5">0.4</text>
<text class="yl" transform="translate(204 462) rotate(-90)">Fraction of Associated Words</text>
<text class="xl" x="253" y="518">school</text>
</g>
</svg>
